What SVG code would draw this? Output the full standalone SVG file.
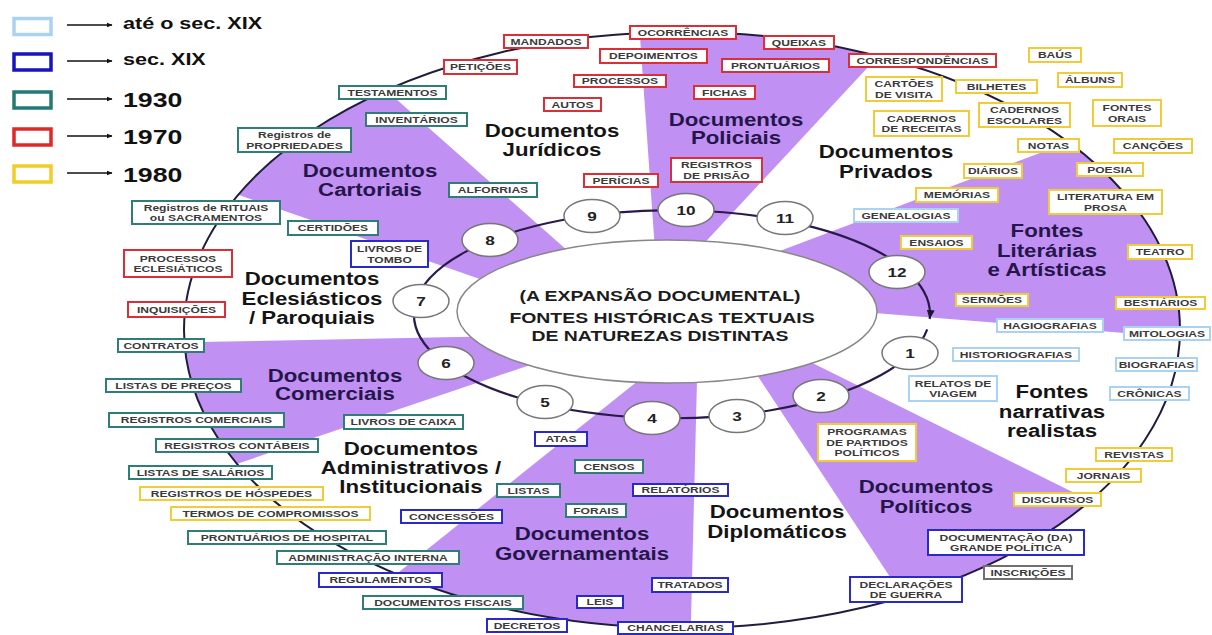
<svg xmlns="http://www.w3.org/2000/svg" width="1212" height="635" viewBox="0 0 1212 635">
<defs>
<style>
.t{font-family:"Liberation Sans",Arial,Helvetica,sans-serif;font-weight:bold;transform:scaleX(1.27);transform-box:fill-box;transform-origin:center}
.tl{transform-origin:0% 50%}
.bx{font-size:9.5px;fill:#3a3a3a;text-anchor:middle}
.b{fill:#fff;stroke-width:2}
.c1{stroke:#a9d2f3}.c2{stroke:#2a2ac6}.c3{stroke:#2e7d76}.c4{stroke:#db2f38}.c5{stroke:#f0cd38}.c6{stroke:#707070}
.cat{font-size:17.5px;text-anchor:middle}
.pu{fill:#24164a}.wh{fill:#141414}
.nd{fill:#fff;stroke:#777;stroke-width:1.5}
.num{font-size:13.5px;fill:#222;text-anchor:middle}
.wedge{fill:#c190f3}
.lg{fill:#fff;stroke-width:3.5}
.lt{font-size:17px;fill:#111}
.ly{font-size:21px;fill:#111}
.ctr{font-size:15.3px;fill:#1c1c1c;text-anchor:middle}
</style>
<clipPath id="oc"><ellipse cx="682" cy="330" rx="498" ry="298"/></clipPath>
<marker id="ah" markerWidth="10" markerHeight="10" refX="9" refY="5" orient="auto" markerUnits="userSpaceOnUse"><path d="M0,1 L9,5 L0,9 Z" fill="#1d1535"/></marker>
<marker id="la" markerWidth="6" markerHeight="6" refX="5.5" refY="3" orient="auto" markerUnits="userSpaceOnUse"><path d="M0,0.5 L6,3 L0,5.5 Z" fill="#111"/></marker>
</defs>
<rect width="1212" height="635" fill="#fff"/>

<g id="legend">
<rect class="lg" x="14" y="18.5" width="37" height="16" style="stroke:#a9d2f3"/>
<line x1="67" y1="25" x2="112" y2="25" stroke="#111" stroke-width="1.5" marker-end="url(#la)"/>
<text class="t tl lt" x="123" y="29.5">até o sec. XIX</text>
<rect class="lg" x="14" y="54" width="37" height="16" style="stroke:#1515c0"/>
<line x1="67" y1="61" x2="112" y2="61" stroke="#111" stroke-width="1.5" marker-end="url(#la)"/>
<text class="t tl lt" x="123" y="65">sec. XIX</text>
<rect class="lg" x="14" y="92" width="37" height="16" style="stroke:#237a72"/>
<line x1="67" y1="99" x2="112" y2="99" stroke="#111" stroke-width="1.5" marker-end="url(#la)"/>
<text class="t tl ly" x="123" y="107">1930</text>
<rect class="lg" x="14" y="129" width="37" height="16" style="stroke:#e02828"/>
<line x1="67" y1="136" x2="112" y2="136" stroke="#111" stroke-width="1.5" marker-end="url(#la)"/>
<text class="t tl ly" x="123" y="144">1970</text>
<rect class="lg" x="14" y="166" width="37" height="16" style="stroke:#f2cd2a"/>
<line x1="67" y1="173" x2="112" y2="173" stroke="#111" stroke-width="1.5" marker-end="url(#la)"/>
<text class="t tl ly" x="123" y="182">1980</text>
</g>

<g id="wedges" clip-path="url(#oc)">
<polygon class="wedge" points="300,14 620,297 620,328 150,164"/>
<polygon class="wedge" points="636,-20 949,-20 658,293"/>
<polygon class="wedge" points="700,281 1250,74 1250,343 700,299"/>
<polygon class="wedge" points="760,337 1250,580 1250,700 971,700 734,340"/>
<polygon class="wedge" points="689,340 698,340 689,700 239,700"/>
<polygon class="wedge" points="560,335 100,344 100,510 560,355"/>
</g>

<g id="connectors" fill="none">
<ellipse cx="682" cy="330" rx="498" ry="298" stroke="#1f1d3d" stroke-width="2"/>
<path d="M927.2,329.4 A258,104 0 1 1 929.7,319" stroke="#2a1a4a" stroke-width="2.2" marker-end="url(#ah)"/>
</g>

<g id="center">
<ellipse cx="667" cy="311.5" rx="210" ry="71.5" fill="#fff" stroke="#888" stroke-width="1.5"/>
<text class="t ctr" x="660" y="301">(A EXPANSÃO DOCUMENTAL)</text>
<text class="t ctr" x="662" y="323">FONTES HISTÓRICAS TEXTUAIS</text>
<text class="t ctr" x="660" y="341">DE NATUREZAS DISTINTAS</text>
</g>

<g id="n1"><ellipse class="nd" cx="910" cy="353" rx="28" ry="16.5"/><text class="t num" x="910" y="358">1</text></g>
<g id="n2"><ellipse class="nd" cx="821" cy="396" rx="28" ry="16.5"/><text class="t num" x="821" y="401">2</text></g>
<g id="n3"><ellipse class="nd" cx="737" cy="416" rx="28" ry="16.5"/><text class="t num" x="737" y="421">3</text></g>
<g id="n4"><ellipse class="nd" cx="652" cy="418" rx="28" ry="16.5"/><text class="t num" x="652" y="423">4</text></g>
<g id="n5"><ellipse class="nd" cx="545" cy="402" rx="28" ry="16.5"/><text class="t num" x="545" y="407">5</text></g>
<g id="n6"><ellipse class="nd" cx="446" cy="363" rx="28" ry="16.5"/><text class="t num" x="446" y="368">6</text></g>
<g id="n7"><ellipse class="nd" cx="421" cy="301" rx="28" ry="16.5"/><text class="t num" x="421" y="306">7</text></g>
<g id="n8"><ellipse class="nd" cx="490" cy="240" rx="28" ry="16.5"/><text class="t num" x="490" y="245">8</text></g>
<g id="n9"><ellipse class="nd" cx="592" cy="216" rx="28" ry="16.5"/><text class="t num" x="592" y="221">9</text></g>
<g id="n10"><ellipse class="nd" cx="686" cy="210" rx="28" ry="16.5"/><text class="t num" x="686" y="215">10</text></g>
<g id="n11"><ellipse class="nd" cx="785" cy="218" rx="28" ry="16.5"/><text class="t num" x="785" y="223">11</text></g>
<g id="n12"><ellipse class="nd" cx="897" cy="272" rx="28" ry="16.5"/><text class="t num" x="897" y="277">12</text></g>

<g id="categories">
<text class="t cat pu" x="370" y="177">Documentos<tspan x="370" dy="19">Cartoriais</tspan></text>
<text class="t cat wh" x="552" y="137">Documentos<tspan x="552" dy="19">Jurídicos</tspan></text>
<text class="t cat pu" x="736" y="126.5">Documentos<tspan x="736" dy="18">Policiais</tspan></text>
<text class="t cat wh" x="886" y="158">Documentos<tspan x="886" dy="20">Privados</tspan></text>
<text class="t cat pu" x="1047" y="237">Fontes<tspan x="1047" dy="20">Literárias</tspan><tspan x="1047" dy="19">e Artísticas</tspan></text>
<text class="t cat wh" x="1052" y="398">Fontes<tspan x="1052" dy="20">narrativas</tspan><tspan x="1052" dy="19">realistas</tspan></text>
<text class="t cat pu" x="926" y="493">Documentos<tspan x="926" dy="20">Políticos</tspan></text>
<text class="t cat wh" x="777" y="518">Documentos<tspan x="777" dy="20">Diplomáticos</tspan></text>
<text class="t cat pu" x="582" y="540">Documentos<tspan x="582" dy="20">Governamentais</tspan></text>
<text class="t cat wh" x="411" y="455">Documentos<tspan x="411" dy="19">Administrativos /</tspan><tspan x="411" dy="19">Institucionais</tspan></text>
<text class="t cat pu" x="335" y="382">Documentos<tspan x="335" dy="18">Comerciais</tspan></text>
<text class="t cat wh" x="312" y="285">Documentos<tspan x="312" dy="20">Eclesiásticos</tspan><tspan x="312" dy="19">/ Paroquiais</tspan></text>
</g>

<g id="b-testamentos"><rect class="b c3" x="339" y="86" width="107" height="13"/><text class="t bx" x="392.5" y="96">TESTAMENTOS</text></g>
<g id="b-inventarios"><rect class="b c3" x="366" y="113" width="101" height="13"/><text class="t bx" x="416.5" y="123">INVENTÁRIOS</text></g>
<g id="b-propriedades"><rect class="b c3" x="238" y="128" width="113" height="24"/><text class="t bx" x="294.5" y="138.5">Registros de<tspan x="294.5" dy="10.5">PROPRIEDADES</tspan></text></g>
<g id="b-alforrias"><rect class="b c3" x="449" y="183" width="88" height="14"/><text class="t bx" x="493" y="193.5">ALFORRIAS</text></g>
<g id="b-rituais"><rect class="b c3" x="132" y="201" width="148" height="23"/><text class="t bx" x="206" y="211">Registros de RITUAIS<tspan x="206" dy="10.5">ou SACRAMENTOS</tspan></text></g>
<g id="b-certidoes"><rect class="b c3" x="288" y="221" width="90" height="14"/><text class="t bx" x="333" y="231.5">CERTIDÕES</text></g>
<g id="b-contratos"><rect class="b c3" x="118" y="339" width="86" height="13"/><text class="t bx" x="161" y="349">CONTRATOS</text></g>
<g id="b-listasprecos"><rect class="b c3" x="106" y="379" width="135" height="13"/><text class="t bx" x="173.5" y="389">LISTAS DE PREÇOS</text></g>
<g id="b-regcomerciais"><rect class="b c3" x="109" y="413" width="175" height="14"/><text class="t bx" x="196.5" y="423.5">REGISTROS COMERCIAIS</text></g>
<g id="b-livroscaixa"><rect class="b c3" x="344" y="415" width="119" height="14"/><text class="t bx" x="403.5" y="425.5">LIVROS DE CAIXA</text></g>
<g id="b-regcontabeis"><rect class="b c3" x="156" y="439" width="162" height="13"/><text class="t bx" x="237" y="449">REGISTROS CONTÁBEIS</text></g>
<g id="b-listassalarios"><rect class="b c3" x="129" y="466" width="143" height="13"/><text class="t bx" x="200.5" y="476">LISTAS DE SALÁRIOS</text></g>
<g id="b-prontuarioshosp"><rect class="b c3" x="188" y="531" width="198" height="13"/><text class="t bx" x="287" y="541">PRONTUÁRIOS DE HOSPITAL</text></g>
<g id="b-adminterna"><rect class="b c3" x="277" y="551" width="182" height="13"/><text class="t bx" x="368" y="561">ADMINISTRAÇÃO INTERNA</text></g>
<g id="b-docfiscais"><rect class="b c3" x="363" y="596" width="160" height="13"/><text class="t bx" x="443" y="606">DOCUMENTOS FISCAIS</text></g>
<g id="b-listas"><rect class="b c3" x="497" y="484" width="63" height="13"/><text class="t bx" x="528.5" y="494">LISTAS</text></g>
<g id="b-forais"><rect class="b c3" x="566" y="504" width="60" height="13"/><text class="t bx" x="596" y="514">FORAIS</text></g>
<g id="b-censos"><rect class="b c3" x="575" y="460" width="68" height="13"/><text class="t bx" x="609" y="470">CENSOS</text></g>

<g id="b-livrostombo"><rect class="b c2" x="351" y="241" width="77" height="26"/><text class="t bx" x="389.5" y="252.5">LIVROS DE<tspan x="389.5" dy="10.5">TOMBO</tspan></text></g>
<g id="b-regulamentos"><rect class="b c2" x="319" y="573" width="123" height="14"/><text class="t bx" x="380.5" y="583.5">REGULAMENTOS</text></g>
<g id="b-decretos"><rect class="b c2" x="487" y="619" width="80" height="13"/><text class="t bx" x="527" y="629">DECRETOS</text></g>
<g id="b-chancelarias"><rect class="b c2" x="618" y="622" width="115" height="12"/><text class="t bx" x="675.5" y="631.5">CHANCELARIAS</text></g>
<g id="b-leis"><rect class="b c2" x="577" y="596" width="46" height="12"/><text class="t bx" x="600" y="605.5">LEIS</text></g>
<g id="b-tratados"><rect class="b c2" x="652" y="578" width="76" height="14"/><text class="t bx" x="690" y="588.5">TRATADOS</text></g>
<g id="b-concessoes"><rect class="b c2" x="401" y="510" width="101" height="13"/><text class="t bx" x="451.5" y="520">CONCESSÕES</text></g>
<g id="b-relatorios"><rect class="b c2" x="633" y="484" width="95" height="12"/><text class="t bx" x="680.5" y="493.5">RELATÓRIOS</text></g>
<g id="b-atas"><rect class="b c2" x="535" y="432" width="52" height="14"/><text class="t bx" x="561" y="442.5">ATAS</text></g>
<g id="b-documentacao"><rect class="b c2" x="928" y="530" width="156" height="25"/><text class="t bx" x="1006" y="541">DOCUMENTAÇÃO (DA)<tspan x="1006" dy="10.5">GRANDE POLÍTICA</tspan></text></g>
<g id="b-declaracoes"><rect class="b c2" x="850" y="577" width="112" height="25"/><text class="t bx" x="906" y="588">DECLARAÇÕES<tspan x="906" dy="10.5">DE GUERRA</tspan></text></g>

<g id="b-peticoes"><rect class="b c4" x="444" y="60" width="73" height="14"/><text class="t bx" x="480.5" y="70.5">PETIÇÕES</text></g>
<g id="b-mandados"><rect class="b c4" x="504" y="35" width="84" height="13"/><text class="t bx" x="546" y="45">MANDADOS</text></g>
<g id="b-ocorrencias"><rect class="b c4" x="630" y="26" width="106" height="13"/><text class="t bx" x="683" y="36">OCORRÊNCIAS</text></g>
<g id="b-queixas"><rect class="b c4" x="764" y="36" width="70" height="13"/><text class="t bx" x="799" y="46">QUEIXAS</text></g>
<g id="b-depoimentos"><rect class="b c4" x="600" y="49" width="107" height="14"/><text class="t bx" x="653.5" y="59.5">DEPOIMENTOS</text></g>
<g id="b-prontuarios"><rect class="b c4" x="722" y="59" width="107" height="13"/><text class="t bx" x="775.5" y="69">PRONTUÁRIOS</text></g>
<g id="b-processos"><rect class="b c4" x="574" y="75" width="92" height="12"/><text class="t bx" x="620" y="84.5">PROCESSOS</text></g>
<g id="b-fichas"><rect class="b c4" x="694" y="86" width="61" height="13"/><text class="t bx" x="724.5" y="96">FICHAS</text></g>
<g id="b-autos"><rect class="b c4" x="544" y="98" width="57" height="13"/><text class="t bx" x="572.5" y="108">AUTOS</text></g>
<g id="b-registrosprisao"><rect class="b c4" x="671" y="158" width="91" height="24"/><text class="t bx" x="716.5" y="168.5">REGISTROS<tspan x="716.5" dy="10.5">DE PRISÃO</tspan></text></g>
<g id="b-pericias"><rect class="b c4" x="584" y="174" width="74" height="13"/><text class="t bx" x="621" y="184">PERÍCIAS</text></g>
<g id="b-correspondencias"><rect class="b c4" x="849" y="54" width="147" height="13"/><text class="t bx" x="922.5" y="64">CORRESPONDÊNCIAS</text></g>
<g id="b-procecles"><rect class="b c4" x="124" y="250" width="108" height="27"/><text class="t bx" x="178" y="262">PROCESSOS<tspan x="178" dy="10.5">ECLESIÁTICOS</tspan></text></g>
<g id="b-inquisicoes"><rect class="b c4" x="128" y="302" width="97" height="15"/><text class="t bx" x="176.5" y="313">INQUISIÇÕES</text></g>

<g id="b-baus"><rect class="b c5" x="1029" y="48" width="52" height="14"/><text class="t bx" x="1055" y="58.5">BAÚS</text></g>
<g id="b-albuns"><rect class="b c5" x="1058" y="73" width="64" height="14"/><text class="t bx" x="1090" y="83.5">ÁLBUNS</text></g>
<g id="b-cartoes"><rect class="b c5" x="866" y="77" width="76" height="24"/><text class="t bx" x="904" y="87.5">CARTÕES<tspan x="904" dy="10.5">DE VISITA</tspan></text></g>
<g id="b-bilhetes"><rect class="b c5" x="956" y="80" width="81" height="13"/><text class="t bx" x="996.5" y="90">BILHETES</text></g>
<g id="b-cadescolares"><rect class="b c5" x="979" y="103" width="91" height="24"/><text class="t bx" x="1024.5" y="113.5">CADERNOS<tspan x="1024.5" dy="10.5">ESCOLARES</tspan></text></g>
<g id="b-fontesorais"><rect class="b c5" x="1093" y="100" width="68" height="26"/><text class="t bx" x="1127" y="111.5">FONTES<tspan x="1127" dy="10.5">ORAIS</tspan></text></g>
<g id="b-cadreceitas"><rect class="b c5" x="874" y="111" width="95" height="25"/><text class="t bx" x="921.5" y="122">CADERNOS<tspan x="921.5" dy="10.5">DE RECEITAS</tspan></text></g>
<g id="b-notas"><rect class="b c5" x="1018" y="139" width="61" height="13"/><text class="t bx" x="1048.5" y="149">NOTAS</text></g>
<g id="b-cancoes"><rect class="b c5" x="1114" y="139" width="78" height="14"/><text class="t bx" x="1153" y="149.5">CANÇÕES</text></g>
<g id="b-diarios"><rect class="b c5" x="964" y="164" width="58" height="14"/><text class="t bx" x="993" y="174.5">DIÁRIOS</text></g>
<g id="b-poesia"><rect class="b c5" x="1077" y="163" width="66" height="13"/><text class="t bx" x="1110" y="173">POESIA</text></g>
<g id="b-memorias"><rect class="b c5" x="916" y="188" width="82" height="14"/><text class="t bx" x="957" y="198.5">MEMÓRIAS</text></g>
<g id="b-literatura"><rect class="b c5" x="1049" y="190" width="113" height="24"/><text class="t bx" x="1105.5" y="200.5">LITERATURA EM<tspan x="1105.5" dy="10.5">PROSA</tspan></text></g>
<g id="b-ensaios"><rect class="b c5" x="901" y="236" width="71" height="13"/><text class="t bx" x="936.5" y="246">ENSAIOS</text></g>
<g id="b-teatro"><rect class="b c5" x="1128" y="245" width="64" height="14"/><text class="t bx" x="1160" y="255.5">TEATRO</text></g>
<g id="b-sermoes"><rect class="b c5" x="956" y="294" width="72" height="12"/><text class="t bx" x="992" y="303.5">SERMÕES</text></g>
<g id="b-bestiarios"><rect class="b c5" x="1116" y="297" width="89" height="12"/><text class="t bx" x="1160.5" y="306.5">BESTIÁRIOS</text></g>
<g id="b-programas"><rect class="b c5" x="818" y="424" width="98" height="37"/><text class="t bx" x="867" y="435.5">PROGRAMAS<tspan x="867" dy="10.5">DE PARTIDOS</tspan><tspan x="867" dy="10.5">POLÍTICOS</tspan></text></g>
<g id="b-revistas"><rect class="b c5" x="1096" y="448" width="76" height="13"/><text class="t bx" x="1134" y="458">REVISTAS</text></g>
<g id="b-jornais"><rect class="b c5" x="1066" y="469" width="75" height="13"/><text class="t bx" x="1103.5" y="479">JORNAIS</text></g>
<g id="b-discursos"><rect class="b c5" x="1014" y="493" width="87" height="13"/><text class="t bx" x="1057.5" y="503">DISCURSOS</text></g>
<g id="b-reghospedes"><rect class="b c5" x="140" y="487" width="183" height="13"/><text class="t bx" x="231.5" y="497">REGISTROS DE HÓSPEDES</text></g>
<g id="b-termos"><rect class="b c5" x="171" y="507" width="199" height="13"/><text class="t bx" x="270.5" y="517">TERMOS DE COMPROMISSOS</text></g>

<g id="b-genealogias"><rect class="b c1" x="854" y="209" width="104" height="13"/><text class="t bx" x="906" y="219">GENEALOGIAS</text></g>
<g id="b-hagiografias"><rect class="b c1" x="997" y="319" width="106" height="13"/><text class="t bx" x="1050" y="329">HAGIOGRAFIAS</text></g>
<g id="b-mitologias"><rect class="b c1" x="1124" y="327" width="86" height="13"/><text class="t bx" x="1167" y="337">MITOLOGIAS</text></g>
<g id="b-historiografias"><rect class="b c1" x="953" y="348" width="126" height="13"/><text class="t bx" x="1016" y="358">HISTORIOGRAFIAS</text></g>
<g id="b-biografias"><rect class="b c1" x="1116" y="358" width="81" height="13"/><text class="t bx" x="1156.5" y="368">BIOGRAFIAS</text></g>
<g id="b-relatos"><rect class="b c1" x="909" y="376" width="88" height="25"/><text class="t bx" x="953" y="387">RELATOS DE<tspan x="953" dy="10.5">VIAGEM</tspan></text></g>
<g id="b-cronicas"><rect class="b c1" x="1110" y="387" width="79" height="13"/><text class="t bx" x="1149.5" y="397">CRÔNICAS</text></g>

<g id="b-inscricoes"><rect class="b c6" x="984" y="566" width="88" height="13"/><text class="t bx" x="1028" y="576">INSCRIÇÕES</text></g>
</svg>
